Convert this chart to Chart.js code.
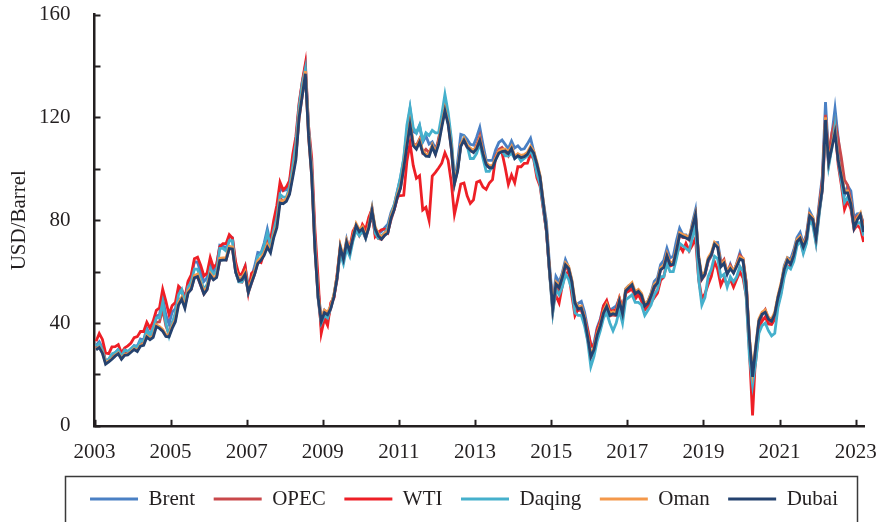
<!DOCTYPE html>
<html>
<head>
<meta charset="utf-8">
<script src="https://cdn.jsdelivr.net/npm/chart.js@4/dist/chart.umd.min.js"></script>
<style>
html,body{margin:0;padding:0;background:#ffffff;}
#wrap{width:880px;height:522px;}
</style>
</head>
<body>
<div id="wrap"><canvas id="c" width="880" height="522"></canvas></div>
<script>
// ---- data (monthly, Jan 2003 - Mar 2023), USD/Barrel ----
const startYear = 2003;
const seriesNames = ['Brent', 'OPEC', 'WTI', 'Daqing', 'Oman', 'Dubai'];
const seriesColors = ['#4a80c4', '#c9484b', '#ee1f26', '#45b0cc', '#f4984a', '#24426f'];
const yearTicks = [2003, 2005, 2007, 2009, 2011, 2013, 2015, 2017, 2019, 2021, 2023];
const yTickValues = [0, 20, 40, 60, 80, 100, 120, 140, 160];
const yLabelledTicks = [0, 40, 80, 120, 160];

const brent = [
31.3,32.7,30.3,25.0,25.8,27.6,28.4,29.8,27.1,29.6,28.8,29.8,
31.2,30.9,33.8,33.4,37.9,35.2,38.2,42.7,43.2,49.8,43.1,39.6,
44.3,45.5,53.1,51.9,49.1,55.6,57.9,63.8,63.7,59.4,56.2,57.6,
63.9,60.1,62.1,70.3,70.0,68.9,73.7,73.2,62.5,58.6,58.8,62.0,
54.3,57.8,62.1,67.5,67.2,71.1,76.6,70.8,77.2,82.3,92.1,91.5,
91.9,94.8,103.3,110.4,124.6,133.5,140.0,115.0,99.6,72.8,53.2,41.6,
44.9,43.1,46.8,50.8,57.9,68.6,64.9,72.5,67.7,73.2,77.0,74.7,
76.2,73.8,78.8,84.8,75.9,74.8,75.6,77.1,78.4,83.0,85.9,91.4,
96.5,103.7,114.6,123.3,114.5,113.9,116.7,110.4,112.8,109.6,110.5,107.9,
110.7,119.3,125.4,119.8,110.3,95.2,102.6,113.4,113.0,111.5,109.5,109.2,
112.3,116.1,109.5,103.3,103.3,103.3,107.4,110.3,111.2,109.5,107.8,110.8,
108.1,108.9,107.5,107.8,109.7,111.9,106.8,101.6,97.1,87.4,79.4,62.3,
47.8,58.1,55.9,59.5,64.6,61.7,56.5,46.5,47.6,48.4,44.3,38.0,
30.7,32.2,38.2,41.6,46.7,48.3,44.9,45.8,46.6,49.5,44.7,53.3,
54.6,54.9,51.6,52.3,50.3,46.4,48.5,51.7,56.2,57.5,62.7,64.4,
69.1,65.3,66.0,72.1,76.9,74.4,74.3,72.5,78.9,84.0,64.8,57.4,
59.4,64.0,66.1,71.2,71.3,64.2,63.9,59.0,62.8,59.7,63.2,67.3,
63.7,55.7,32.0,20.0,29.4,40.3,43.2,44.7,40.9,40.2,42.7,49.9,
54.8,62.3,65.4,64.8,68.5,73.2,75.2,70.8,74.5,83.5,81.1,74.2,
86.5,97.1,126.0,104.6,113.3,123.5,111.9,100.5,89.8,93.3,91.4,80.9,
82.5,82.6,78.4
];

const opec = [
30.3,31.5,29.8,25.3,25.7,27.0,27.8,28.6,26.3,28.5,28.4,29.4,
30.3,29.6,32.2,32.4,36.3,34.6,36.3,40.3,40.4,45.4,38.9,35.7,
40.2,41.7,49.1,49.6,46.9,52.0,53.1,57.8,57.9,54.6,51.3,53.1,
58.5,57.0,57.9,64.4,65.1,64.6,68.9,68.8,59.8,56.1,55.9,58.6,
51.7,55.4,59.0,63.9,64.4,67.1,71.7,68.7,74.2,79.0,88.8,87.0,
88.4,90.6,99.0,105.2,119.4,128.3,137.0,112.4,96.9,69.1,49.8,38.6,
41.5,41.4,45.8,50.2,56.9,68.4,64.6,71.4,67.2,72.7,76.3,74.0,
76.0,72.9,77.2,82.3,74.5,72.9,72.5,74.2,75.4,80.1,84.0,88.7,
92.8,100.3,109.8,118.1,109.9,109.0,111.6,106.3,107.6,106.3,108.9,105.9,
111.8,117.5,122.9,118.2,108.1,94.0,99.6,109.5,110.7,108.4,106.9,106.6,
109.3,112.8,106.4,101.0,100.7,101.0,104.5,107.5,108.3,106.7,105.0,107.7,
105.0,105.4,104.2,104.3,105.4,107.9,105.6,100.8,95.9,85.1,75.6,59.5,
44.4,54.1,52.5,57.3,62.2,60.2,54.2,45.5,44.8,45.0,40.5,33.6,
26.5,28.7,34.7,37.9,43.2,45.8,42.7,43.1,42.9,47.9,43.2,51.7,
52.4,53.4,50.3,51.1,49.2,45.2,46.9,49.6,53.4,55.5,60.7,62.1,
66.9,63.5,63.8,68.4,74.1,73.2,73.3,72.3,77.2,81.5,65.3,56.9,
58.7,64.0,66.4,70.8,69.9,62.9,64.7,59.6,62.4,59.9,62.9,66.5,
65.1,56.0,33.9,17.7,25.2,37.1,43.4,45.2,41.5,40.1,43.4,49.2,
54.4,61.1,64.6,63.2,66.9,71.9,73.5,70.3,73.9,82.1,80.4,74.4,
85.4,95.7,121.0,105.6,113.9,118.5,111.6,104.3,95.6,93.6,87.5,79.7,
81.6,82.1,78.5
];

const wti = [
32.9,35.9,33.6,28.3,28.1,30.7,30.8,31.6,28.3,30.3,31.1,32.2,
34.3,34.7,36.7,36.7,40.3,38.0,40.7,44.9,45.9,53.1,48.5,43.3,
46.8,48.0,54.3,53.0,49.8,56.3,58.7,65.0,65.6,62.4,58.3,59.4,
65.5,61.6,62.9,69.7,70.9,70.9,74.4,73.0,63.8,58.9,59.1,62.0,
52.0,59.3,60.4,64.0,63.5,67.5,74.1,72.4,79.9,85.8,94.8,91.7,
93.0,95.4,105.5,112.6,125.4,133.9,141.0,116.7,104.1,76.6,57.3,36.0,
41.7,39.1,47.9,49.7,59.0,69.6,64.2,71.1,69.4,75.7,78.0,74.5,
78.3,76.4,81.2,84.3,73.7,75.3,76.3,76.6,75.2,81.9,84.3,89.2,
89.6,89.7,102.9,110.0,101.3,96.3,97.3,84.0,85.0,80.0,97.2,98.6,
100.3,102.2,106.2,103.3,94.7,82.3,87.9,94.1,94.5,89.5,86.5,87.9,
94.8,95.3,92.9,92.0,94.5,95.8,104.6,106.6,106.3,100.5,93.9,97.6,
94.6,100.8,100.8,102.1,102.2,105.8,103.6,96.5,93.2,84.4,75.8,59.3,
47.2,50.6,47.8,54.5,59.3,59.8,50.9,42.9,45.5,46.2,42.4,37.2,
31.7,30.3,37.5,40.8,46.7,48.8,44.7,44.7,45.2,49.8,45.7,52.0,
52.5,53.5,49.3,51.1,48.5,45.2,46.6,48.0,49.8,51.6,56.6,57.9,
63.7,62.2,62.7,66.3,70.0,67.9,71.0,68.1,70.2,73.0,57.0,49.5,
51.4,55.0,58.2,63.9,60.8,54.7,57.4,54.8,57.0,54.0,57.0,59.9,
57.5,50.5,29.2,4.0,28.6,38.3,40.7,42.4,39.6,39.4,41.4,47.0,
52.0,59.1,62.3,61.7,65.2,71.4,72.5,67.7,71.6,81.5,79.2,71.7,
83.2,91.6,115.0,101.8,109.6,115.5,101.6,93.7,84.3,87.6,84.4,76.4,
78.1,76.8,71.5
];

const daqing = [
31.0,32.0,29.5,25.0,26.0,28.0,28.5,29.5,27.0,29.5,29.0,30.0,
31.0,30.5,33.0,33.0,37.0,35.0,38.0,42.0,42.0,48.0,40.0,35.0,
40.0,44.0,51.0,53.0,48.0,54.0,56.0,61.0,61.0,57.0,53.0,55.0,
61.0,59.0,60.0,69.0,69.0,68.0,72.0,72.0,60.0,56.0,56.0,59.0,
52.0,56.0,60.0,66.0,67.0,70.0,75.0,70.0,76.0,81.0,90.0,89.0,
89.0,93.0,101.0,110.0,124.0,133.0,139.0,116.0,100.0,72.0,50.0,40.0,
43.0,42.0,46.0,51.0,58.0,67.0,63.0,69.0,66.0,72.0,76.0,74.0,
76.0,73.0,78.0,84.0,75.0,73.0,74.0,75.0,77.0,82.0,86.0,91.0,
97.0,104.0,117.0,124.0,116.0,114.0,117.0,111.0,114.0,113.0,115.0,114.0,
114.0,121.0,129.0,122.0,112.0,96.0,100.0,109.0,112.0,109.0,104.0,104.0,
106.0,110.0,104.0,99.0,99.0,101.0,104.0,106.0,107.0,105.0,105.0,106.0,
104.0,105.0,103.0,104.0,105.0,107.0,104.0,98.0,94.0,85.0,76.0,59.0,
44.0,53.0,51.0,54.0,59.0,57.0,53.0,44.0,43.0,43.0,39.0,33.0,
23.0,27.0,33.0,37.0,42.0,44.0,40.0,37.0,40.0,45.0,40.0,49.0,
50.0,51.0,48.0,48.0,47.0,43.0,45.0,47.0,51.0,53.0,58.0,58.0,
63.0,60.0,60.0,65.0,71.0,70.0,69.0,68.0,73.0,78.0,57.0,47.0,
50.0,58.0,61.0,66.0,65.0,58.0,59.0,54.0,58.0,56.0,58.0,62.0,
60.0,50.0,27.0,16.0,25.0,36.0,39.0,40.0,37.0,35.0,36.0,46.0,
51.0,58.0,62.0,61.0,64.0,70.0,72.0,67.0,71.0,80.0,78.0,71.0,
82.0,92.0,118.0,101.0,108.0,117.0,103.0,95.0,87.0,89.0,86.0,77.0,
79.0,79.0,74.0
];

const oman = [
29.7,30.6,28.5,24.5,25.2,26.2,27.4,28.3,26.2,27.7,27.9,28.9,
30.0,29.3,31.4,31.8,35.0,34.0,35.0,39.3,38.6,37.5,35.5,35.3,
38.7,41.3,48.0,50.0,46.5,52.5,54.0,58.5,59.0,55.6,52.2,54.0,
59.3,57.6,58.5,65.2,65.3,65.3,69.8,69.6,60.7,57.2,57.7,59.9,
52.9,56.5,60.0,64.2,65.4,67.3,70.5,68.3,74.1,78.1,87.7,87.4,
88.3,91.1,97.6,104.5,120.8,129.3,138.0,113.9,97.9,69.8,51.1,41.6,
45.0,44.2,46.6,51.1,58.6,70.2,65.6,72.2,68.6,74.0,78.7,76.3,
77.5,74.0,77.9,84.5,77.4,74.7,73.4,74.9,75.8,81.6,84.9,89.8,
93.3,101.1,109.6,117.8,109.8,108.4,111.2,107.0,105.7,105.6,109.3,106.4,
110.3,117.0,123.3,118.1,108.7,95.1,99.9,109.5,111.9,109.3,108.0,107.1,
108.7,111.9,106.6,102.5,101.2,101.2,104.3,106.9,107.5,107.7,106.7,108.7,
104.8,105.9,105.2,105.5,106.4,108.8,106.9,102.6,97.4,87.6,77.1,61.0,
46.4,55.9,54.6,58.5,63.4,62.0,56.9,48.6,46.2,46.6,42.5,35.5,
27.7,30.4,36.1,39.8,44.7,47.3,43.8,44.4,44.0,49.3,44.4,53.3,
54.5,55.7,52.2,53.1,51.5,47.4,48.5,51.4,55.0,56.3,61.5,62.4,
67.0,63.5,63.6,69.1,75.1,74.4,73.9,73.3,78.0,82.5,66.4,58.0,
59.9,65.4,67.4,71.4,70.2,62.6,64.0,59.9,61.9,60.2,62.8,65.7,
65.1,55.0,34.7,21.2,31.3,41.6,44.2,45.0,42.3,41.5,44.2,50.6,
55.6,61.7,65.2,63.7,67.1,72.4,73.7,70.3,73.4,82.4,81.1,74.0,
84.3,93.1,120.0,103.3,109.0,114.5,104.0,97.8,91.4,91.4,87.1,77.7,
80.9,82.8,76.2
];

const dubai = [
29.5,30.4,28.2,24.0,24.9,25.9,27.1,28.0,25.9,27.4,27.6,28.6,
29.7,28.9,31.0,31.3,34.5,33.5,34.4,38.6,37.9,36.8,34.8,34.6,
37.9,40.5,47.0,49.2,45.7,51.6,53.1,57.6,58.1,54.7,51.3,53.0,
58.5,56.8,57.7,64.3,64.5,64.5,69.0,68.8,59.9,56.4,56.9,59.0,
52.0,55.6,59.0,63.2,64.4,66.3,69.5,67.3,73.1,77.1,86.7,86.4,
87.3,90.1,96.6,103.5,119.8,128.3,137.0,112.9,96.9,68.8,50.1,40.6,
44.0,43.2,45.6,50.1,57.6,69.4,64.8,71.4,67.8,73.2,77.9,75.5,
76.7,73.2,77.1,83.7,76.6,73.9,72.6,74.1,75.0,80.8,84.1,89.0,
92.5,100.3,108.8,117.0,109.0,107.6,110.4,106.2,104.9,104.8,108.5,105.6,
109.5,116.2,122.5,117.3,107.9,94.3,99.1,108.7,111.1,108.5,107.2,106.3,
107.9,111.1,105.8,101.7,100.4,100.4,103.5,106.1,106.7,106.9,105.9,107.9,
104.0,105.1,104.4,104.7,105.6,108.0,106.1,101.8,96.6,86.8,76.3,60.2,
45.6,55.1,53.8,57.7,62.6,61.2,56.1,47.8,45.4,45.8,41.7,34.7,
26.9,29.6,35.3,39.0,43.9,46.5,43.0,43.6,43.2,48.5,43.6,52.5,
53.7,54.9,51.4,52.3,50.7,46.6,47.7,50.6,54.2,55.5,60.7,61.6,
66.2,62.7,62.8,68.3,74.3,73.6,73.1,72.5,77.2,82.0,65.6,57.2,
59.1,64.6,66.6,70.6,69.4,61.8,63.2,59.1,61.1,59.4,62.0,64.9,
64.3,54.2,33.9,19.0,30.5,40.8,43.4,44.2,41.5,40.7,43.4,49.8,
54.8,60.9,64.4,62.9,66.3,71.6,72.9,69.5,72.6,81.6,80.3,73.2,
83.5,92.3,119.0,102.5,108.2,114.0,103.2,97.0,90.6,90.6,86.3,76.9,
80.1,82.0,75.4
];

const seriesValues = [brent, opec, wti, daqing, oman, dubai];

// ---- build chart ----
const FONT = {family: "'Liberation Serif', 'Times New Roman', serif", size: 21};
const INK = '#231f20';

function toPoints(values) {
  return values.map((v, i) => ({x: startYear + (i + 0.5) / 12, y: v}));
}

const datasets = seriesNames.map((name, k) => ({
  label: name,
  data: toPoints(seriesValues[k]),
  borderColor: seriesColors[k],
  backgroundColor: seriesColors[k],
  borderWidth: 2.8,
  pointRadius: 0,
  tension: 0,
  order: seriesNames.length - 1 - k
}));

const inwardTicks = {
  id: 'inwardTicks',
  afterDraw(chart) {
    const {ctx, chartArea: a, scales: {x, y}} = chart;
    ctx.save();
    ctx.strokeStyle = INK;
    ctx.lineWidth = 2;
    yTickValues.forEach(v => {
      const py = Math.round(y.getPixelForValue(v)) + 0.5;
      ctx.beginPath(); ctx.moveTo(a.left, py); ctx.lineTo(a.left + 6, py); ctx.stroke();
    });
    yearTicks.forEach(v => {
      const px = Math.round(x.getPixelForValue(v)) + 0.5;
      ctx.beginPath(); ctx.moveTo(px, a.bottom); ctx.lineTo(px, a.bottom - 6); ctx.stroke();
    });
    ctx.restore();
  }
};

const legendShift = {
  id: 'legendShift',
  afterLayout(chart, args, opts) {
    const l = chart.legend;
    if (!l) return;
    l.left += opts.dx; l.right += opts.dx;
    l.top += opts.dy; l.bottom += opts.dy;
  }
};

const legendFrame = {
  id: 'legendFrame',
  afterDraw(chart, args, opts) {
    const hb = chart.legend && chart.legend.legendHitBoxes;
    if (!hb || !hb.length) return;
    const first = hb[0], last = hb[hb.length - 1];
    const left = Math.round(first.left - opts.padLeft) + 0.5;
    const right = Math.round(last.left + last.width + opts.padRight) + 0.5;
    const top = Math.round(first.top - opts.padTop) + 0.5;
    const ctx = chart.ctx;
    ctx.save();
    ctx.strokeStyle = '#3a3a3a';
    ctx.lineWidth = 1.5;
    ctx.strokeRect(left, top, right - left, chart.height + 20 - top);
    ctx.restore();
  }
};

new Chart(document.getElementById('c'), {
  type: 'line',
  data: {datasets},
  plugins: [inwardTicks, legendShift, legendFrame],
  options: {
    responsive: false,
    animation: false,
    devicePixelRatio: 1,
    layout: {padding: {left: 4, right: 16, top: 4, bottom: 5}},
    scales: {
      x: {
        type: 'linear',
        min: 2003,
        max: 2023.22,
        afterBuildTicks: s => { s.ticks = yearTicks.map(v => ({value: v})); },
        ticks: {padding: 2, color: INK, font: FONT, maxRotation: 0, autoSkip: false,
                callback: v => String(v)},
        grid: {display: true, drawOnChartArea: false, drawTicks: true, tickLength: 12.5, tickColor: 'rgba(0,0,0,0)'},
        border: {display: true, color: INK, width: 2.5}
      },
      y: {
        min: 0,
        max: 160,
        afterBuildTicks: s => { s.ticks = yTickValues.map(v => ({value: v})); },
        ticks: {padding: 2, color: INK, font: FONT,
                callback: v => (yLabelledTicks.includes(v) ? String(v) : '')},
        grid: {display: true, drawOnChartArea: false, drawTicks: true, tickLength: 22, tickColor: 'rgba(0,0,0,0)'},
        border: {display: true, color: INK, width: 2.5},
        title: {display: true, text: 'USD/Barrel', color: INK, font: FONT, padding: {top: 3, bottom: 4.8}}
      }
    },
    plugins: {
      legend: {
        position: 'bottom',
        labels: {
          boxWidth: 48,
          boxHeight: 3,
          padding: 18.5,
          color: INK,
          font: FONT,
          sort: (a, b) => a.datasetIndex - b.datasetIndex,
          generateLabels: chart => Chart.defaults.plugins.legend.labels.generateLabels(chart)
            .map(it => Object.assign(it, {lineWidth: 0}))
        }
      },
      legendShift: {dx: 30, dy: 2.6},
      legendFrame: {padLeft: 25, padRight: 19, padTop: 12.5},
      tooltip: {enabled: false}
    }
  }
});
</script>
</body>
</html>
